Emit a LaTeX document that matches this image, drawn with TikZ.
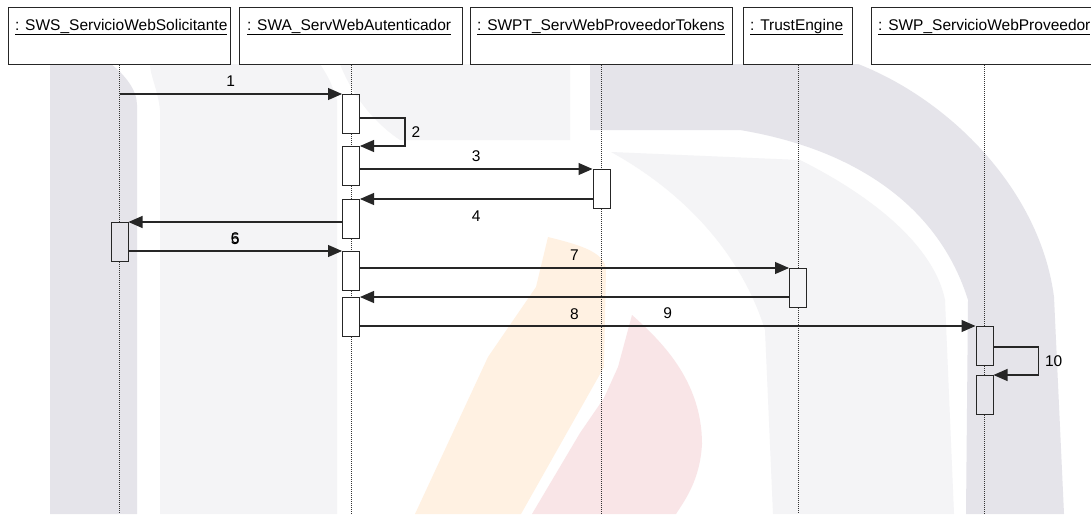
\documentclass[tikz,border=0pt]{standalone}
\usepackage{fontspec}
\setmainfont{Liberation Sans}
\usetikzlibrary{arrows.meta}

\definecolor{wmdark}{HTML}{E5E4EA}
\definecolor{wmlight}{HTML}{F4F4F6}
\definecolor{wmorange}{HTML}{FFF1E2}
\definecolor{wmpink}{HTML}{F9E5E7}

\tikzset{
  objbox/.style={draw=black!85, line width=1pt, fill=white, minimum height=57pt,
    inner sep=0pt, anchor=north west},
  objname/.style={inner sep=0pt, anchor=base west, font=\fontsize{15.5}{18}\selectfont},
  lifeline/.style={draw=black!80, line width=0.7pt, dash pattern=on 1pt off 1pt},
  act/.style={draw=black!85, line width=1pt, minimum width=17pt, minimum height=39pt,
    inner sep=0pt, anchor=north},
  msg/.style={draw=black!85, line width=1.1pt, -{Triangle[length=14pt,width=12pt]}},
  msglbl/.style={inner sep=0pt, font=\fontsize{15.5}{18}\selectfont},
}

\begin{document}
\begin{tikzpicture}[x=1pt, y=-1pt]
  \useasboundingbox (0,0) rectangle (1091,514);
  \fill[white] (0,0) rectangle (1091,514);

  % watermark in the back
  \fill[wmdark] (50,64) -- (111,64) .. controls (125,75) and (137,90) .. (137,105)
    -- (137,514) -- (50,514) -- cycle;
  \fill[wmlight] (150,64) -- (320,64) .. controls (330,80) .. (337,100) -- (337,514)
    -- (160,514) -- (160,110) .. controls (158,90) and (150,75) .. cycle;
  \fill[wmlight] (340,64) -- (570,64) -- (570,140) -- (400,140)
    .. controls (370,120) and (350,90) .. cycle;
  \fill[wmdark] (590,64) -- (858,64) .. controls (950,100) and (1040,190) .. (1054,297)
    -- (1064,514) -- (966,514) -- (968,300) .. controls (940,210) and (860,150) .. (740,130)
    -- (590,130) -- cycle;
  \fill[wmlight] (611,152) -- (800,160) .. controls (880,200) and (935,250) .. (945,300)
    -- (954,514) -- (773,514) -- (765,330) .. controls (740,250) and (680,190) .. cycle;
  \fill[wmorange] (548,237) .. controls (580,245) and (605,252) .. (606,270)
    -- (604,367) -- (521,514) -- (415,514) -- (488,357) -- (536,287) -- cycle;
  \fill[wmpink] (632,315) .. controls (660,340) and (702,380) .. (702,444)
    .. controls (700,480) and (685,500) .. (676,514) -- (532,514)
    -- (580,433) -- (604,398) -- (618,367) -- cycle;

  % objects
  \node[objbox, minimum width=222pt] (sws) at (8,7) {};
  \node[objbox, minimum width=223pt] (swa) at (239,7) {};
  \node[objbox, minimum width=262pt] (swpt) at (470,7) {};
  \node[objbox, minimum width=109pt] (te) at (743,7) {};
  \node[objbox, minimum width=226pt] (swp) at (871,7) {};

  \node[objname] (swsname) at ([xshift=7pt, yshift=-23pt]sws.north west) {\underline{: SWS\_ServicioWebSolicitante}};
  \node[objname] (swaname) at ([xshift=8pt, yshift=-23pt]swa.north west) {\underline{: SWA\_ServWebAutenticador}};
  \node[objname] (swptname) at ([xshift=7pt, yshift=-23pt]swpt.north west) {\underline{: SWPT\_ServWebProveedorTokens}};
  \node[objname] (tename) at ([xshift=7pt, yshift=-23pt]te.north west) {\underline{: TrustEngine}};
  \node[objname] (swpname) at ([xshift=7pt, yshift=-23pt]swp.north west) {\underline{: SWP\_ServicioWebProveedor}};

  % activations
  \node[act] (a1) at (swa.south |- 0,94) {};
  \node[act] (a2) at (swa.south |- 0,146) {};
  \node[act] (a3) at (swpt.south |- 0,169) {};
  \node[act] (a4) at (swa.south |- 0,199) {};
  \node[act] (b1) at (sws.south |- 0,222) {};
  \node[act] (a5) at (swa.south |- 0,251) {};
  \node[act] (a6) at (te.south |- 0,268) {};
  \node[act] (a7) at (swa.south |- 0,297) {};
  \node[act] (a8) at (swp.south |- 0,326) {};
  \node[act] (a9) at (swp.south |- 0,375) {};

  % lifelines
  \draw[lifeline] (sws.south) -- (b1.north) (b1.south) -- (sws.south |- 0,514);
  \draw[lifeline] (swa.south) -- (a1.north) (a1.south) -- (a2.north) (a2.south) -- (a4.north)
    (a4.south) -- (a5.north) (a5.south) -- (a7.north) (a7.south) -- (swa.south |- 0,514);
  \draw[lifeline] (swpt.south) -- (a3.north) (a3.south) -- (swpt.south |- 0,514);
  \draw[lifeline] (te.south) -- (a6.north) (a6.south) -- (te.south |- 0,514);
  \draw[lifeline] (swp.south) -- (a8.north) (a8.south) -- (a9.north) (a9.south) -- (swp.south |- 0,514);

  % messages
  \coordinate (s1) at (sws.south |- a1.north);
  \draw[msg] (s1) -- (a1.north west) node[midway, above=7pt, msglbl] (m1) {1};
  \draw[msg] (a1.east |- 0,118) -- ++(45,0) -- ++(0,28) node[midway, right=6pt, msglbl] (m2) {2}
    -- (a2.north east);
  \draw[msg] (a2.east |- a3.north) -- (a3.north west) node[midway, above=7pt, msglbl] (m3) {3};
  \draw[msg] (a3.west |- a4.north) -- (a4.north east) node[midway, below=11pt, msglbl] (m4) {4};
  \draw[msg] (a4.west |- b1.north) -- (b1.north east) node[midway, below=11pt, msglbl] (m5) {5};
  \draw[msg] (b1.east |- a5.north) -- (a5.north west) node[midway, above=7pt, msglbl] (m6) {6};
  \draw[msg] (a5.east |- a6.north) -- (a6.north west) node[midway, above=7pt, msglbl] (m7) {7};
  \draw[msg] (a6.west |- a7.north) -- (a7.north east) node[midway, below=11pt, msglbl] (m8) {8};
  \draw[msg] (a7.east |- a8.north) -- (a8.north west) node[midway, above=7pt, msglbl] (m9) {9};
  \draw[msg] (a8.east |- 0,347) -- ++(45,0) -- ++(0,28) node[midway, right=6pt, msglbl] (m10) {10}
    -- (a9.north east);
\end{tikzpicture}
\end{document}
